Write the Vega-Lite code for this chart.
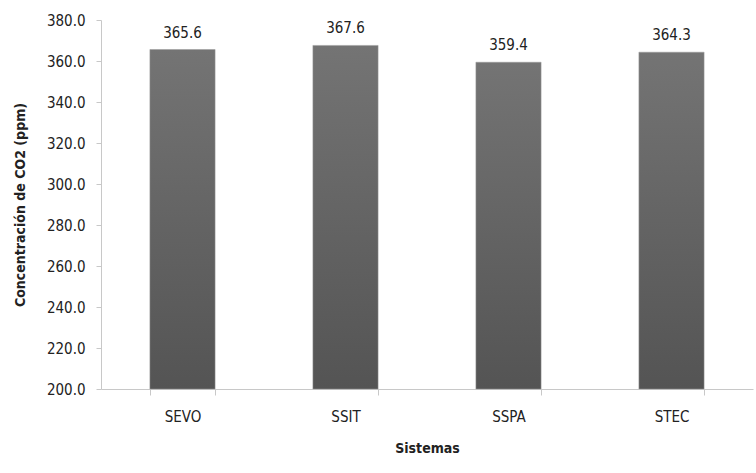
{
  "$schema": "https://vega.github.io/schema/vega-lite/v6.json",
  "autosize": {"type": "none"},
  "width": 652,
  "height": 369,
  "padding": {"left": 101, "top": 20, "right": 3, "bottom": 84},
  "background": "white",
  "config": {
    "view": {"stroke": null},
    "font": "'DejaVu Sans Condensed', Roboto, sans-serif"
  },
  "data": {
    "values": [
      {"Sistema": "SEVO", "CO2": 365.6},
      {"Sistema": "SSIT", "CO2": 367.6},
      {"Sistema": "SSPA", "CO2": 359.4},
      {"Sistema": "STEC", "CO2": 364.3}
    ]
  },
  "encoding": {
    "x": {
      "field": "Sistema",
      "type": "nominal",
      "sort": null,
      "scale": {"paddingInner": 0.6, "paddingOuter": 0.3},
      "axis": {
        "title": "Sistemas",
        "titleFontSize": 14,
        "titleFontWeight": "bold",
        "titleColor": "#222",
        "titlePadding": 17,
        "labelAngle": 0,
        "labelFontSize": 15,
        "labelColor": "#222",
        "labelPadding": 14,
        "tickBand": "extent",
        "tickSize": 6,
        "tickColor": "#c8c8c8",
        "domainColor": "#c8c8c8",
        "grid": false
      }
    },
    "y": {
      "field": "CO2",
      "type": "quantitative",
      "scale": {"domain": [200, 380], "zero": false, "nice": false},
      "axis": {
        "title": "Concentración de CO2 (ppm)",
        "titleFontSize": 14,
        "titleFontWeight": "bold",
        "titleColor": "#222",
        "titlePadding": 19,
        "values": [200, 220, 240, 260, 280, 300, 320, 340, 360, 380],
        "format": ".1f",
        "labelFontSize": 15,
        "labelColor": "#222",
        "labelPadding": 11,
        "tickSize": 5,
        "tickColor": "#c8c8c8",
        "domainColor": "#c8c8c8",
        "grid": false
      }
    }
  },
  "layer": [
    {
      "mark": {
        "type": "bar",
        "color": {
          "gradient": "linear",
          "x1": 0, "y1": 0, "x2": 0, "y2": 1,
          "stops": [
            {"offset": 0, "color": "#747474"},
            {"offset": 1, "color": "#545454"}
          ]
        },
        "stroke": "#9a9a9a",
        "strokeWidth": 0.5
      },
      "encoding": {
        "y2": {"datum": 200}
      }
    },
    {
      "mark": {
        "type": "text",
        "dy": -17,
        "fontSize": 15,
        "color": "#222"
      },
      "encoding": {
        "text": {"field": "CO2", "type": "quantitative", "format": ".1f"}
      }
    }
  ]
}
